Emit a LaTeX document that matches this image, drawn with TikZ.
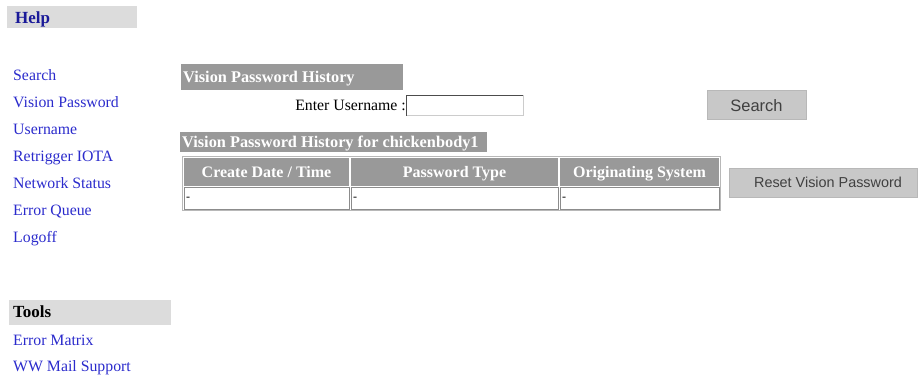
\documentclass[tikz,border=0pt]{standalone}
\usepackage{fontspec}
\setmainfont{Liberation Serif}
\newfontfamily\btnfont{Liberation Sans}
\definecolor{linkblue}{HTML}{2B2BCC}
\definecolor{helpblue}{HTML}{1A1A99}
\definecolor{barlight}{HTML}{DCDCDC}
\definecolor{hdrgray}{HTML}{999999}
\definecolor{btngray}{HTML}{C8C8C8}
\definecolor{edgegray}{HTML}{B8B8B8}
\tikzset{
  link/.style={anchor=base west, inner sep=0pt, text=linkblue, font=\fontsize{15.8}{18}\selectfont},
  bar/.style={fill=barlight, draw=none},
  hdr/.style={fill=hdrgray, draw=none},
  hdrtext/.style={anchor=base west, inner sep=0pt, text=white, font=\bfseries\fontsize{16.3}{18}\selectfont},
  colhead/.style={anchor=base, text=white, font=\bfseries\fontsize{16}{18}\selectfont, inner sep=0pt},
  btn/.style={fill=btngray, draw=edgegray, line width=0.8pt},
  btntext/.style={anchor=base, font=\btnfont\fontsize{16.5}{18}\selectfont, text=black!75, inner sep=0pt},
  cellval/.style={anchor=west, inner sep=0pt, font=\fontsize{12}{14}\selectfont},
}
\begin{document}
\begin{tikzpicture}[x=1pt,y=-1pt]
\useasboundingbox (0,0) rectangle (918,379);
% Help bar
\fill[bar] (7,6) rectangle (137,28);
\node[anchor=base west, inner sep=0pt, text=helpblue, font=\bfseries\fontsize{17}{19}\selectfont] (help) at (15,23.3) {Help};
% links
\node[link] (l1) at (13,80.5) {Search};
\node[link] (l2) at (13,107.5) {Vision Password};
\node[link] (l3) at (13,134.5) {Username};
\node[link] (l4) at (13,161.5) {Retrigger IOTA};
\node[link] (l5) at (13,188.5) {Network Status};
\node[link] (l6) at (13,215.5) {Error Queue};
\node[link] (l7) at (13,242.5) {Logoff};
% Tools bar
\fill[bar] (9,300) rectangle (171,325);
\node[anchor=base west, inner sep=0pt, font=\bfseries\fontsize{17}{19}\selectfont] (tools) at (13,317.3) {Tools};
\node[link] (t1) at (13,345) {Error Matrix};
\node[link] (t2) at (13,371.7) {WW Mail Support};
% header 1
\fill[hdr] (181,64) rectangle (403,90);
\node[hdrtext] (h1) at (183,82.7) {Vision Password History};
% Enter username
\node[anchor=base east, inner sep=0pt, font=\fontsize{15.8}{18}\selectfont] (eu) at (406,110.7) {Enter Username :};
\fill[white] (406,95) rectangle (523,116);
\draw[black!70, line width=1pt] (406.5,116) -- (406.5,95.5) -- (523,95.5);
\draw[black!20, line width=1pt] (523,95.5) -- (523,115.5) -- (406.5,115.5);
\node[inner sep=0pt, minimum width=117pt, minimum height=21pt] (input) at (464.5,105.5) {};
% Search button
\draw[btn] (707,90) rectangle (806,119);
\node[btntext] (sb) at (756.5,111.5) {Search};
% header 2
\fill[hdr] (180,132) rectangle (487,152);
\node[hdrtext] (h2) at (182,148) {Vision Password History for chickenbody1};
% Table
\draw[edgegray, line width=1pt] (182.5,156.5) rectangle (720.5,210.5);
\fill[hdrgray] (184,158) rectangle (349,186);
\fill[hdrgray] (351,158) rectangle (558,186);
\fill[hdrgray] (560,158) rectangle (719,186);
\draw[black!45, line width=0.8pt] (184,187.5) rectangle (349,209);
\draw[black!45, line width=0.8pt] (351,187.5) rectangle (558,209);
\draw[black!45, line width=0.8pt] (560,187.5) rectangle (719,209);
\node[colhead] (c1) at (266.5,177.5) {Create Date / Time};
\node[colhead] (c2) at (454.5,177.5) {Password Type};
\node[colhead] (c3) at (639.5,177.5) {Originating System};
\node[cellval] (v1) at (186,199) {-};
\node[cellval] (v2) at (353,199) {-};
\node[cellval] (v3) at (562,199) {-};
% Reset button
\draw[btn] (729,168) rectangle (917,197);
\node[btntext, font=\btnfont\fontsize{14.4}{16}\selectfont] (rb) at (828,188) {Reset Vision Password};
\end{tikzpicture}
\end{document}
